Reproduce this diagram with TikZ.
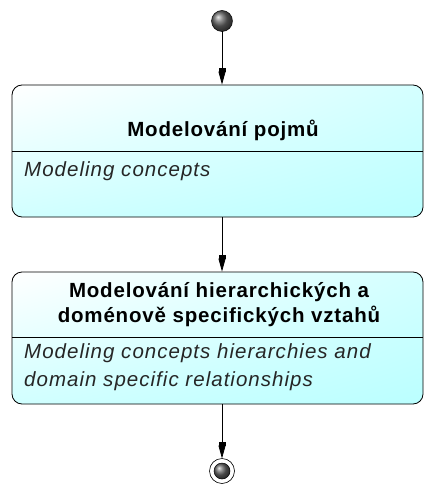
\documentclass[tikz,border=0pt]{standalone}
\usepackage{fontspec}
\setmainfont{Liberation Sans}
\newfontfamily\boxfont[LetterSpace=4]{Liberation Sans}
\newfontfamily\descfont[LetterSpace=5]{Liberation Sans}
\usetikzlibrary{arrows.meta,shadings}
\begin{document}
\begin{tikzpicture}[x=1pt,y=-1pt,
  statebox/.style={draw=black, line width=0.8pt, rounded corners=10pt,
    upper left=white, upper right=cyan!17, lower left=cyan!18, lower right=cyan!27,
    minimum width=411pt, minimum height=132pt, inner sep=0pt},
  titletext/.style={font=\boxfont\fontsize{20.5}{25}\selectfont\bfseries, align=center, inner sep=0pt},
  desctext/.style={font=\descfont\fontsize{20.5}{27}\selectfont\itshape, color=black!85, align=left, inner sep=0pt, anchor=base west},
  flow/.style={draw=black, line width=0.8pt, -{Rectangle[width=7pt,length=4pt,sep=0pt]Triangle[width=7pt,length=13pt]}}
]
\useasboundingbox (0,0) rectangle (426,486);
% start
\shade[ball color=black!60] (222,21) circle (10.5pt);
\draw[line width=0.5pt] (222,21) circle (10.5pt);
\coordinate (start) at (222,31.5);
% box 1
\node[statebox] (b1) at (217.5,151) {};
\draw[line width=0.8pt] (12,151) -- (423,151);
\node[titletext, anchor=base] (t1) at (223,137) {Modelování pojmů};
\node[desctext] (d1) at (24,176) {Modeling concepts};
% box 2
\node[statebox] (b2) at (217.5,338) {};
\draw[line width=0.8pt] (12,337) -- (423,337);
\node[titletext, anchor=base] (t2a) at (219,297) {Modelování hierarchických a};
\node[titletext, anchor=base] (t2b) at (219,322) {doménově specifických vztahů};
\node[desctext] (d2a) at (24,358) {Modeling concepts hierarchies and};
\node[desctext] (d2b) at (24,386) {domain specific relationships};
% end
\fill[white] (222,471) circle (12.5pt);
\draw[line width=0.6pt] (222,471) circle (12.5pt);
\shade[ball color=black!60] (222,471) circle (8pt);
\draw[line width=0.5pt] (222,471) circle (8pt);
\coordinate (endtop) at (222,458.5);
% connectors
\draw[flow] (start) -- (start |- b1.north);
\draw[flow] (start |- b1.south) -- (start |- b2.north);
\draw[flow] (start |- b2.south) -- (endtop);
\end{tikzpicture}
\end{document}
